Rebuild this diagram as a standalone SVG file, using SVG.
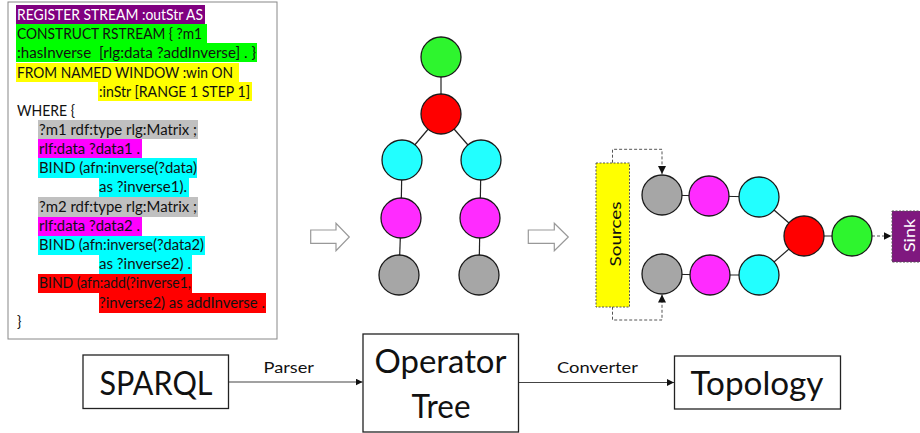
<svg xmlns="http://www.w3.org/2000/svg" width="920" height="433" viewBox="0 0 920 433">
  <defs>
    <marker id="tri" viewBox="0 0 10 10" refX="10" refY="5" markerWidth="7" markerHeight="7" markerUnits="userSpaceOnUse" orient="auto">
      <path d="M0,0 L10,5 L0,10 Z" fill="#111"/>
    </marker>
    <marker id="triS" viewBox="0 0 10 10" refX="10" refY="5" markerWidth="8" markerHeight="8" markerUnits="userSpaceOnUse" orient="auto">
      <path d="M0,0 L10,5 L0,10 Z" fill="#111"/>
    </marker>
  </defs>
  <style>
    .q { font-family: Lato, "Liberation Sans", sans-serif; font-size: 14.5px; fill: #111; }
    .qw { fill: #fff; }
    .box { fill: #fff; stroke: #222; stroke-width: 1.3; }
    .big { font-family: Lato, "Liberation Sans", sans-serif; font-size: 33px; fill: #111; text-anchor: middle; }
    .lbl { font-family: Lato, "Liberation Sans", sans-serif; font-size: 16px; fill: #111; }
    .op { stroke: #1a1a1a; stroke-width: 1.3; }
    .g { fill: #2ef52e; }
    .r { fill: #ff0000; }
    .c { fill: #22ffff; }
    .m { fill: #ff2bff; }
    .k { fill: #a6a6a6; }
    .edge { stroke: #222; stroke-width: 1.2; fill: none; }
    .dash { stroke: #555; stroke-width: 1; stroke-dasharray: 3 2; fill: none; }
    .flow { stroke: #444; stroke-width: 1.2; fill: none; }
    .hollow { fill: #fff; stroke: #999; stroke-width: 1.2; }
  </style>

  <!-- Query text panel -->
  <g id="query">
    <rect x="8" y="2" width="269" height="337" fill="#fff" stroke="#888" stroke-width="1"/>
    <rect x="16" y="5" width="189" height="19" fill="#800080"/>
    <rect x="16" y="24" width="191" height="19" fill="#00ff00"/>
    <rect x="16" y="43" width="241" height="19" fill="#00ff00"/>
    <rect x="16" y="63" width="223" height="19" fill="#ffff00"/>
    <rect x="98" y="82" width="154" height="19" fill="#ffff00"/>
    <rect x="38" y="120" width="160" height="19" fill="#c0c0c0"/>
    <rect x="38" y="139" width="104" height="19" fill="#ff00ff"/>
    <rect x="38" y="158" width="159" height="20" fill="#00ffff"/>
    <rect x="99" y="178" width="90" height="19" fill="#00ffff"/>
    <rect x="38" y="197" width="160" height="20" fill="#c0c0c0"/>
    <rect x="38" y="217" width="104" height="19" fill="#ff00ff"/>
    <rect x="38" y="236" width="167" height="19" fill="#00ffff"/>
    <rect x="99" y="255" width="93" height="19" fill="#00ffff"/>
    <rect x="38" y="274" width="154" height="19" fill="#ff0000"/>
    <rect x="99" y="293" width="167" height="20" fill="#ff0000"/>

    <text class="q qw" x="17" y="20" textLength="186" lengthAdjust="spacingAndGlyphs">REGISTER STREAM :outStr AS</text>
    <text class="q" x="17" y="39" textLength="185" lengthAdjust="spacingAndGlyphs">CONSTRUCT RSTREAM { ?m1</text>
    <text class="q" x="17" y="58" textLength="239" lengthAdjust="spacingAndGlyphs" xml:space="preserve">:hasInverse  [rlg:data ?addInverse] . }</text>
    <text class="q" x="17" y="78" textLength="216" lengthAdjust="spacingAndGlyphs">FROM NAMED WINDOW :win ON</text>
    <text class="q" x="99" y="97" textLength="151" lengthAdjust="spacingAndGlyphs">:inStr [RANGE 1 STEP 1]</text>
    <text class="q" x="17" y="116" textLength="58" lengthAdjust="spacingAndGlyphs">WHERE {</text>
    <text class="q" x="39" y="135" textLength="158" lengthAdjust="spacingAndGlyphs">?m1 rdf:type rlg:Matrix ;</text>
    <text class="q" x="39" y="154" textLength="101" lengthAdjust="spacingAndGlyphs">rlf:data ?data1 .</text>
    <text class="q" x="39" y="173" textLength="158" lengthAdjust="spacingAndGlyphs">BIND (afn:inverse(?data)</text>
    <text class="q" x="99" y="192" textLength="88" lengthAdjust="spacingAndGlyphs">as ?inverse1).</text>
    <text class="q" x="39" y="212" textLength="158" lengthAdjust="spacingAndGlyphs">?m2 rdf:type rlg:Matrix ;</text>
    <text class="q" x="39" y="231" textLength="101" lengthAdjust="spacingAndGlyphs">rlf:data ?data2 .</text>
    <text class="q" x="39" y="250" textLength="165" lengthAdjust="spacingAndGlyphs">BIND (afn:inverse(?data2)</text>
    <text class="q" x="99" y="269" textLength="92" lengthAdjust="spacingAndGlyphs">as ?inverse2) .</text>
    <text class="q" x="39" y="288" textLength="152" lengthAdjust="spacingAndGlyphs">BIND (afn:add(?inverse1,</text>
    <text class="q" x="99" y="308" textLength="166" lengthAdjust="spacingAndGlyphs">?inverse2) as addInverse .</text>
    <text class="q" x="17" y="327">}</text>
  </g>

  <!-- Hollow transition arrows -->
  <g id="step-arrows">
    <path class="hollow" d="M310.7,230 H336 V223.3 L349.3,237 L336,250.7 V243.3 H310.7 Z"/>
    <path class="hollow" d="M528.3,230 H554.3 V223.3 L568.3,237 L554.3,250.7 V243.3 H528.3 Z"/>
  </g>

  <!-- Operator tree connectors -->
  <g id="tree-edges">
    <line class="edge" x1="441" y1="57" x2="441" y2="114"/>
    <line class="edge" x1="441" y1="114" x2="402" y2="160"/>
    <line class="edge" x1="441" y1="114" x2="481" y2="160"/>
    <line class="edge" x1="402" y1="160" x2="401" y2="218"/>
    <line class="edge" x1="401" y1="218" x2="399" y2="275"/>
    <line class="edge" x1="481" y1="160" x2="480" y2="218"/>
    <line class="edge" x1="480" y1="218" x2="479" y2="275"/>
  </g>

  <!-- Operator tree nodes -->
  <g id="tree-nodes">
    <g id="t-construct"><circle class="op g" cx="441" cy="57" r="20"/></g>
    <g id="t-add"><circle class="op r" cx="441" cy="114" r="20"/></g>
    <g id="t-inv1"><circle class="op c" cx="402" cy="160" r="20"/></g>
    <g id="t-inv2"><circle class="op c" cx="481" cy="160" r="20"/></g>
    <g id="t-data1"><circle class="op m" cx="401" cy="218" r="20"/></g>
    <g id="t-data2"><circle class="op m" cx="480" cy="218" r="20"/></g>
    <g id="t-type1"><circle class="op k" cx="399" cy="275" r="20"/></g>
    <g id="t-type2"><circle class="op k" cx="479" cy="275" r="20"/></g>
  </g>

  <!-- Topology connectors -->
  <g id="topology-edges">
    <line class="edge" x1="662" y1="195" x2="709" y2="196"/>
    <line class="edge" x1="709" y1="196" x2="759" y2="197"/>
    <line class="edge" x1="759" y1="197" x2="804" y2="236"/>
    <line class="edge" x1="662" y1="274" x2="710" y2="275"/>
    <line class="edge" x1="710" y1="275" x2="759" y2="275"/>
    <line class="edge" x1="759" y1="275" x2="804" y2="236"/>
    <line class="edge" x1="804" y1="236" x2="852" y2="236"/>
    <path class="dash" d="M612.5,162.7 V149.3 H662 V174" marker-end="url(#triS)"/>
    <path class="dash" d="M612.5,306.7 V320 H662 V294.5" marker-end="url(#triS)"/>
    <path class="dash" d="M872,236 H891.5" marker-end="url(#triS)"/>
  </g>

  <!-- Topology nodes -->
  <g id="sources">
    <rect x="596" y="163" width="33.5" height="144" fill="#ffff00" stroke="#555" stroke-width="1" stroke-dasharray="2 1.5"/>
    <text class="lbl" transform="translate(621,234) rotate(-90)" text-anchor="middle" font-size="19" textLength="65" lengthAdjust="spacingAndGlyphs">Sources</text>
  </g>
  <g id="sink">
    <rect x="892" y="211" width="30" height="51" fill="#7f187f" stroke="#555" stroke-width="1" stroke-dasharray="2 1.5"/>
    <text class="lbl" transform="translate(914.5,235.5) rotate(-90)" text-anchor="middle" font-size="17" style="fill:#fff" textLength="33" lengthAdjust="spacingAndGlyphs">Sink</text>
  </g>
  <g id="p-type1"><circle class="op k" cx="662" cy="195" r="20"/></g>
  <g id="p-data1"><circle class="op m" cx="709" cy="196" r="20"/></g>
  <g id="p-inv1"><circle class="op c" cx="759" cy="197" r="20"/></g>
  <g id="p-type2"><circle class="op k" cx="662" cy="274" r="20"/></g>
  <g id="p-data2"><circle class="op m" cx="710" cy="275" r="20"/></g>
  <g id="p-inv2"><circle class="op c" cx="759" cy="275" r="20"/></g>
  <g id="p-add"><circle class="op r" cx="804" cy="236" r="20"/></g>
  <g id="p-construct"><circle class="op g" cx="852" cy="236" r="20"/></g>

  <!-- Pipeline stages -->
  <g id="pipeline-flow">
    <line class="flow" x1="228.5" y1="382" x2="362.5" y2="382" marker-end="url(#tri)"/>
    <text class="lbl" x="263.5" y="373" textLength="50.5" lengthAdjust="spacingAndGlyphs">Parser</text>
    <line class="flow" x1="518.5" y1="382.5" x2="674" y2="382.5" marker-end="url(#tri)"/>
    <text class="lbl" x="557" y="373" textLength="81" lengthAdjust="spacingAndGlyphs">Converter</text>
  </g>
  <g id="sparql">
    <rect class="box" x="83" y="355" width="145.5" height="53.5"/>
    <text class="big" x="156" y="395" textLength="113" lengthAdjust="spacingAndGlyphs">SPARQL</text>
  </g>
  <g id="operator-tree">
    <rect class="box" x="363" y="334" width="155.5" height="98"/>
    <text class="big" x="440.5" y="373" textLength="132" lengthAdjust="spacingAndGlyphs">Operator</text>
    <text class="big" x="441" y="418" textLength="59" lengthAdjust="spacingAndGlyphs">Tree</text>
  </g>
  <g id="topology">
    <rect class="box" x="674.5" y="356" width="166" height="53"/>
    <text class="big" x="757" y="395" textLength="133" lengthAdjust="spacingAndGlyphs">Topology</text>
  </g>
</svg>
